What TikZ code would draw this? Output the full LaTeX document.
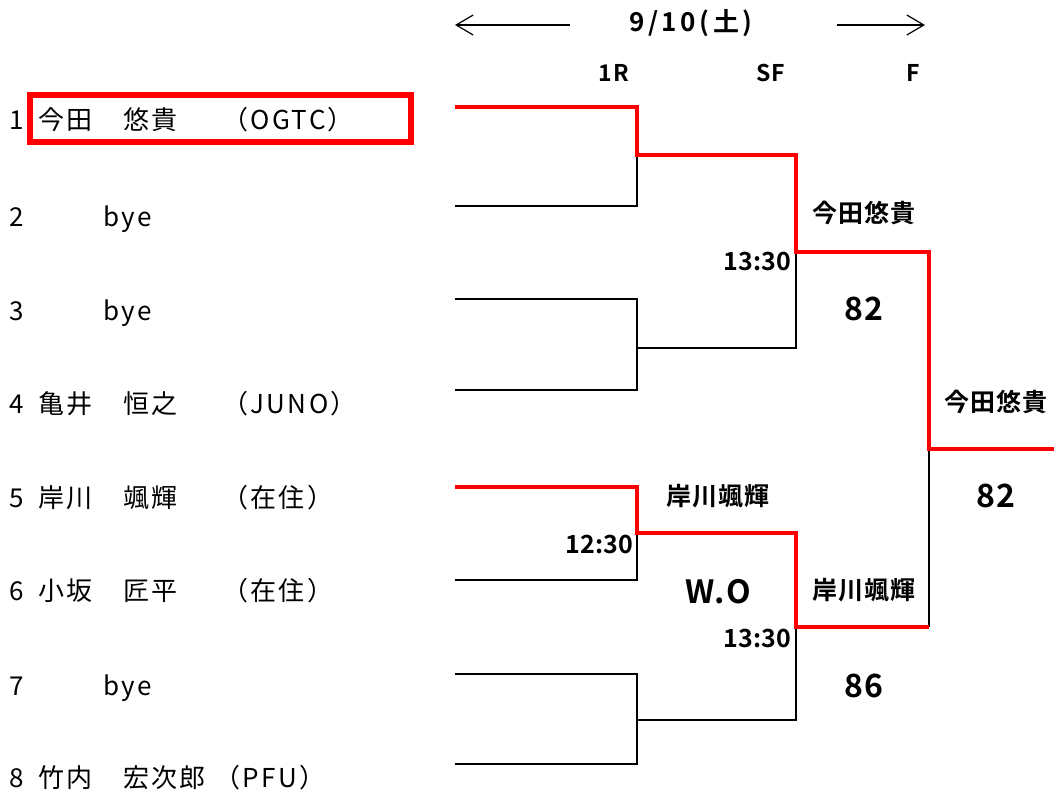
\documentclass[tikz,border=0pt]{standalone}
\usepackage{fontspec}
\usetikzlibrary{arrows.meta}
\newfontfamily\jp[LetterSpace=9]{Noto Sans CJK JP}
\newfontfamily\jpr{Noto Sans CJK JP}
\newfontfamily\jpb[LetterSpace=4]{Noto Sans CJK JP Bold}
\newfontfamily\jph[LetterSpace=14]{Noto Sans CJK JP Bold}
\newfontfamily\jpn{Noto Sans CJK JP Bold}
\tikzset{
  entry/.style={anchor=base west, inner sep=0pt, font=\jp\fontsize{26}{26}\selectfont},
  num/.style={anchor=base west, inner sep=0pt, font=\jpr\fontsize{26}{26}\selectfont},
  lbl/.style={inner sep=0pt, font=\jpb\fontsize{25}{25}\selectfont},
  tm/.style={anchor=east, inner sep=0pt, font=\jpn\fontsize{25}{25}\selectfont},
  score/.style={inner sep=0pt, font=\jpb\fontsize{32}{32}\selectfont},
  head/.style={inner sep=0pt, font=\jph\fontsize{26}{26}\selectfont},
  rnd/.style={inner sep=0pt, font=\jpb\fontsize{23}{23}\selectfont},
  bline/.style={draw=black, line width=1.5pt},
  rline/.style={draw=red, line width=4pt},
  harrow/.style={draw=black, line width=1.2pt, -{Straight Barb[length=17pt,width=20pt,line width=1.2pt]}},
}
\begin{document}
\begin{tikzpicture}[x=1pt,y=-1pt]
\useasboundingbox (0,0) rectangle (1054,793);
% header
\node[head] (date) at (691,23) {9/10(土)};
\coordinate (la0) at (570,25); \coordinate (la1) at (455,25);
\coordinate (ra0) at (837,25); \coordinate (ra1) at (925,25);
\draw[harrow] (la0) -- (la1);
\draw[harrow] (ra0) -- (ra1);
\node[rnd] (r1) at (614,73) {1R};
\node[rnd] (rsf) at (771,73) {SF};
\node[rnd] (rf) at (913,73) {F};
% players
\node[draw=red, line width=6pt, minimum width=381pt, minimum height=47pt, inner sep=0pt] (box) at (220.5,118.5) {};
\foreach \i/\y in {1/129,2/226,3/320,4/413,5/507,6/600,7/695,8/787}{
  \node[num] (n\i) at (9,\y) {\i};
}
\node[entry] (s1) at (38,129) {今田};
\node[entry] (g1) at (123,129) {悠貴};
\node[entry] (a1) at (222,129) {（OGTC）};
\node[entry] (g2) at (103,226) {bye};
\node[entry] (g3) at (103,320) {bye};
\node[entry] (s4) at (38,413) {亀井};
\node[entry] (g4) at (123,413) {恒之};
\node[entry] (a4) at (222,413) {（JUNO）};
\node[entry] (s5) at (38,507) {岸川};
\node[entry] (g5) at (123,507) {颯輝};
\node[entry] (a5) at (222,507) {（在住）};
\node[entry] (s6) at (38,600) {小坂};
\node[entry] (g6) at (123,600) {匠平};
\node[entry] (a6) at (222,600) {（在住）};
\node[entry] (g7) at (103,695) {bye};
\node[entry] (s8) at (38,787) {竹内};
\node[entry] (g8) at (123,787) {宏次郎};
\node[entry] (a8) at (214,787) {（PFU）};
% bracket coordinates
\coordinate (l1) at (455,107); \coordinate (l2) at (455,206);
\coordinate (l3) at (455,299); \coordinate (l4) at (455,390);
\coordinate (l5) at (455,487); \coordinate (l6) at (455,580);
\coordinate (l7) at (455,674); \coordinate (l8) at (455,764);
\coordinate (m1) at (637,155); \coordinate (m2) at (637,348);
\coordinate (m3) at (637,533); \coordinate (m4) at (637,720);
\coordinate (q1) at (796,252); \coordinate (q2) at (796,627);
\coordinate (fw) at (929,449); \coordinate (fe) at (1054,449);
% black lines
\draw[bline] (l2) -| (m1);
\draw[bline] (l3) -| (m2) |- (l4);
\draw[bline] (m2) -| (q1);
\draw[bline] (l6) -| (m3);
\draw[bline] (l7) -| (m4) |- (l8);
\draw[bline] (m4) -| (q2);
\draw[bline] (fw) -- (fw |- q2);
% red lines
\draw[rline] (l1) -| (m1) -| (q1) -| (fw) -- (fe);
\draw[rline] (l5) -| (m3) -| (q2) -- (fw |- q2);
% labels
\node[lbl] (w1) at (864,213) {今田悠貴};
\node[tm] (t1) at (791,261) {13:30};
\node[score] (sc1) at (864,309) {82};
\node[lbl] (w2) at (718,496) {岸川颯輝};
\node[tm] (t2) at (633,544) {12:30};
\node[score] (wo) at (718,592) {W.O};
\node[lbl] (w3) at (864,590) {岸川颯輝};
\node[tm] (t3) at (791,638) {13:30};
\node[score] (sc2) at (864,686) {86};
\node[lbl] (w4) at (996,402) {今田悠貴};
\node[score] (sc3) at (996,496) {82};
\end{tikzpicture}
\end{document}
